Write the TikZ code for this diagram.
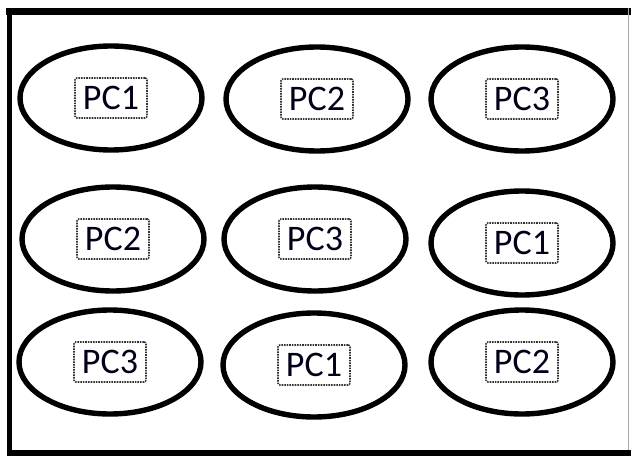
\documentclass[tikz,border=0pt]{standalone}
\usepackage{fontspec}
\setmainfont{Carlito}
\usetikzlibrary{shapes.geometric}
\tikzset{
  pcring/.style={draw,ellipse,line width=5.4pt,minimum width=182pt,minimum height=104pt,inner sep=0pt},
  pctag/.style={draw=black!80,densely dotted,line width=1.6pt,rounded corners=2pt,minimum width=72pt,minimum height=40pt,inner sep=0pt,text=black!90!blue,font=\fontsize{36}{40}\selectfont}
}
\begin{document}
\begin{tikzpicture}[x=1pt,y=1pt]
            \useasboundingbox (0,0) rectangle (631,-457);
            % frame
            \draw[line width=7pt] (6,-11.7)--(631,-11.7);
            \draw[line width=4.6pt] (9.7,-8.5)--(9.7,-456);
            \draw[line width=6pt] (7.5,-453)--(631,-453);
            \draw[line width=1.2pt,black!35] (628.5,-8.5)--(628.5,-450);
            % first row
            \node[pcring] (r1a) at (111,-98) {};
            \node[pcring] (r1b) at (317,-99) {};
            \node[pcring] (r1c) at (522,-99) {};
            \node[pctag] at (r1a) {PC1};
            \node[pctag] at (r1b) {PC2};
            \node[pctag] at (r1c) {PC3};
            % second row
            \node[pcring] (r2a) at (113,-239) {};
            \node[pcring] (r2b) at (315,-239) {};
            \node[pcring] (r2c) at (522,-243) {};
            \node[pctag] at (r2a) {PC2};
            \node[pctag] at (r2b) {PC3};
            \node[pctag] at (r2c) {PC1};
            % third row
            \node[pcring] (r3a) at (110,-362) {};
            \node[pcring] (r3b) at (314,-365) {};
            \node[pcring] (r3c) at (522,-362) {};
            \node[pctag] at (r3a) {PC3};
            \node[pctag] at (r3b) {PC1};
            \node[pctag] at (r3c) {PC2};
        \end{tikzpicture}
\end{document}
